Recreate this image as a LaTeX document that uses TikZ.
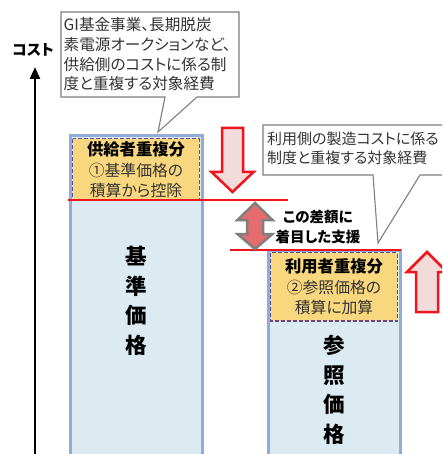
\documentclass[tikz,border=0pt]{standalone}
\usepackage{fontspec}
\usetikzlibrary{arrows.meta}
\setmainfont{Noto Sans CJK JP}[RawFeature=+palt]
\definecolor{barblue}{HTML}{91ACD8}
\definecolor{barfill}{HTML}{DCEAF2}
\definecolor{dupyellow}{HTML}{F9D77E}
\definecolor{dashpurple}{HTML}{5F4B8B}
\definecolor{linered}{HTML}{F0141E}
\definecolor{pinkfill}{HTML}{F2DCDB}
\definecolor{midred}{HTML}{E46C6C}
\definecolor{arrowgray}{HTML}{7F7F7F}
\definecolor{txtgray}{HTML}{333333}
\tikzset{
  barbox/.style={draw=barblue, fill=barfill, line width=3pt},
  dupbox/.style={draw=dashpurple, fill=dupyellow, line width=1.3pt, dash pattern=on 4pt off 2pt},
  redline/.style={draw=linered, line width=2.8pt},
  blockarrow/.style={draw=linered, fill=pinkfill, line width=2.5pt, line join=miter},
  diffarrow/.style={draw=arrowgray, fill=midred, line width=2.5pt, line join=miter},
  callout/.style={draw=arrowgray, fill=white, line width=1.1pt, line join=miter},
  callouttext/.style={text=txtgray, align=left, inner sep=0pt, font=\fontsize{15.6}{19.7}\selectfont},
  duptext/.style={text=txtgray, align=center, inner sep=0pt, font=\fontsize{15.8}{20.5}\selectfont},
  bigtext/.style={text=black, align=center, inner sep=0pt, font=\bfseries\fontsize{21.5}{29.5}\selectfont},
  boldlabel/.style={text=black, align=center, inner sep=0pt, font=\bfseries\fontsize{14.5}{20}\selectfont},
}
\begin{document}
\begin{tikzpicture}[x=1pt, y=-1pt]
\clip (0,0) rectangle (442,454);
\fill[white] (0,0) rectangle (442,454);

% axis
\coordinate (axisbot) at (35,460);
\coordinate (axistop) at (35,67);
\draw[line width=2.3pt, -{Triangle[length=12pt, width=10pt]}] (axisbot) -- (axistop);
\node[boldlabel, font=\bfseries\fontsize{15}{16}\selectfont] (costlbl) at (33,50) {コスト};

% left bar
\draw[barbox] (70,136) rectangle (202,470);
\draw[dupbox] (72.8,138.8) rectangle (199.2,200);
\node[duptext] (supdup) at (136,170) {\textbf{\color{black}\fontsize{16.3}{20.5}\selectfont 供給者重複分}\\①基準価格の\\積算から控除};
\node[bigtext] (kijun) at (136,301) {基\\準\\価\\格};

% right bar
\draw[barbox] (268,250) rectangle (400,470);
\draw[dupbox] (270.8,252.8) rectangle (397.2,321);
\node[duptext] (usedup) at (334,287) {\textbf{\color{black}\fontsize{16.3}{20.5}\selectfont 利用者重複分}\\②参照価格の\\積算に加算};
\node[bigtext] (sansho) at (334,390) {参\\照\\価\\格};

% red lines
\coordinate (l1a) at (68,200);
\coordinate (l1b) at (288,200);
\coordinate (l2a) at (230,250);
\coordinate (l2b) at (401,250);
\draw[redline] (l1a) -- (l1b);
\draw[redline] (l2a) -- (l2b);

% down arrow
\draw[blockarrow] (222,128) -- (243,128) -- (243,172) -- (253.5,172) -- (232.5,192)
  -- (211.5,172) -- (222,172) -- cycle;
% up arrow
\draw[blockarrow] (416,312) -- (438,312) -- (438,272) -- (447,272) -- (427,252)
  -- (407,272) -- (416,272) -- cycle;
% difference arrow
\draw[diffarrow] (255,203) -- (272.5,220) -- (263,220) -- (263,234) -- (272.5,234)
  -- (255,249) -- (237.5,234) -- (247,234) -- (247,220) -- (237.5,220) -- cycle;
\node[boldlabel] (difflbl) at (318,227) {この差額に\\着目した支援};

% callout 1
\draw[callout] (61,12) -- (239,12) -- (239,97) -- (197,97) -- (158,132) -- (165,97)
  -- (61,97) -- cycle;
\node[callouttext, anchor=north west] (call1) at (63.5,17.5)
  {GI基金事業、長期脱炭\\素電源オークションなど、\\供給側のコストに係る制\\度と重複する対象経費};

% callout 2
\draw[callout] (263,125) -- (452,125) -- (452,175) -- (420,175) -- (378,243) -- (373,175)
  -- (263,175) -- cycle;
\node[callouttext, anchor=north west, font=\fontsize{15}{18.3}\selectfont] (call2) at (267,132)
  {利用側の製造コストに係る\\制度と重複する対象経費};
\end{tikzpicture}
\end{document}
